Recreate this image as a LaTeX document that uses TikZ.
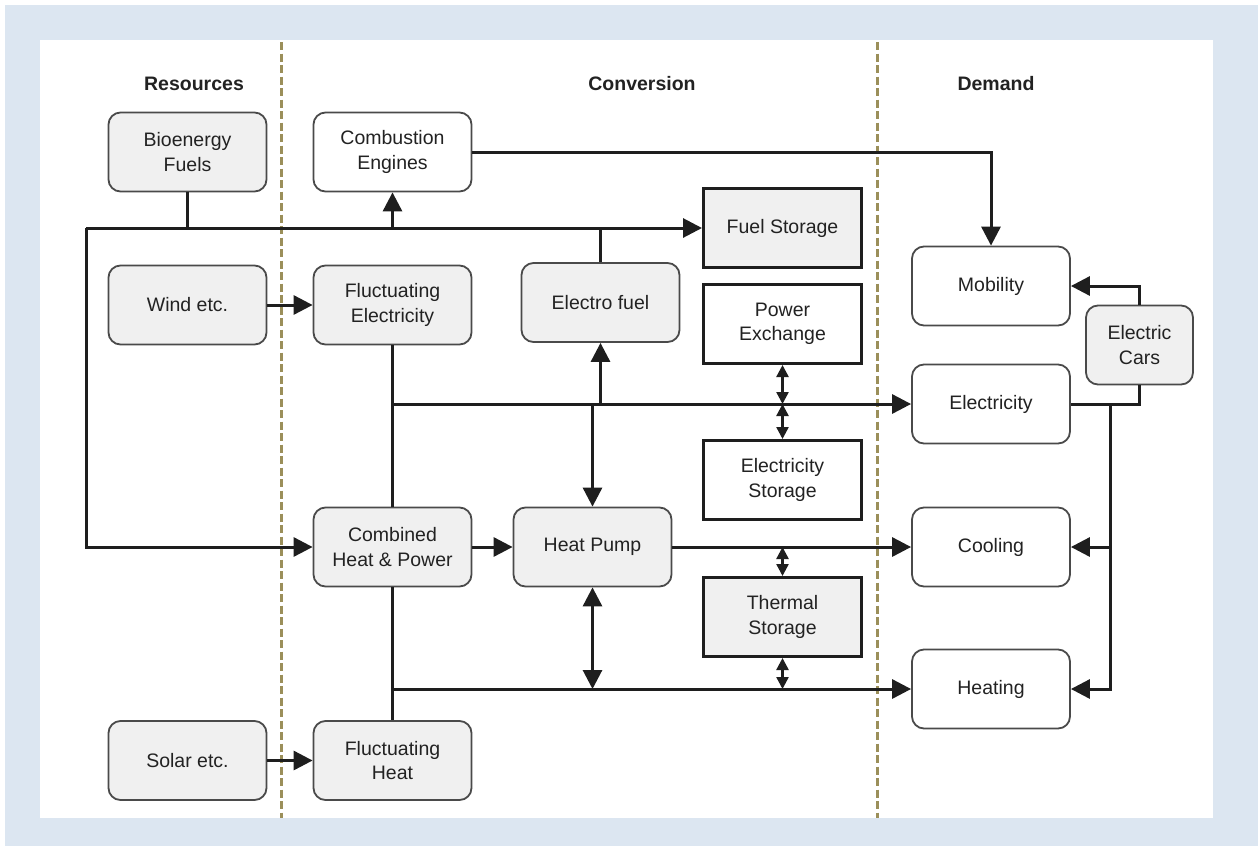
\documentclass[tikz,border=0pt]{standalone}
\usepackage{fontspec}
\setmainfont{Liberation Sans}
\usetikzlibrary{arrows.meta}
\definecolor{bgblue}{HTML}{DCE6F1}
\definecolor{boxgray}{HTML}{F0F0F0}
\definecolor{edge}{HTML}{4A4A4A}
\definecolor{wire}{HTML}{1E1E1E}
\definecolor{txt}{HTML}{222222}
\definecolor{sepcol}{HTML}{9B8F5A}
\begin{document}
\begin{tikzpicture}[x=1pt, y=-1pt,
    font=\fontsize{19.5}{24.5}\selectfont, text=txt,
    box/.style={line width=1.8pt, minimum width=158pt, minimum height=79pt, align=center, inner sep=0pt},
    gbox/.style={box, draw=edge, rounded corners=12pt, fill=boxgray},
    wbox/.style={box, draw=edge, rounded corners=12pt, fill=white},
    gsq/.style={box, draw=wire, line width=3pt, fill=boxgray},
    wsq/.style={box, draw=wire, line width=3pt, fill=white},
    head/.style={font=\fontsize{19.5}{24.5}\selectfont\bfseries},
    wireline/.style={draw=wire, line width=3pt},
    arr/.style={wireline, -{Triangle[length=19pt, width=19pt]}},
    bigdbl/.style={wireline, {Triangle[length=19pt, width=19pt]}-{Triangle[length=19pt, width=19pt]}},
    dbl/.style={draw=wire, line width=2.4pt, {Triangle[length=12pt, width=12pt]}-{Triangle[length=12pt, width=12pt]}},
    sep/.style={draw=sepcol, line width=3pt, dash pattern=on 8pt off 3.5pt}]
  % frame
  \useasboundingbox (0,0) rectangle (1258,846);
  \fill[bgblue] (5,5) rectangle (1258,846);
  \fill[white] (40,40) rectangle (1213,818);
  \draw[sep] (281,42) -- (281,818);
  \draw[sep] (877,42) -- (877,818);
  % column headings
  \node[head] (hres) at (194,84) {Resources};
  \node[head] (hconv) at (642,84) {Conversion};
  \node[head] (hdem) at (996,84) {Demand};
  % resources
  \node[gbox] (bio) at (187.5,152) {Bioenergy\\Fuels};
  \node[gbox] (wind) at (187.5,305) {Wind etc.};
  \node[gbox] (solar) at (187.5,760.5) {Solar etc.};
  % conversion
  \node[wbox] (comb) at (392.5,152) {Combustion\\Engines};
  \node[gbox] (fluel) at (392.5,305) {Fluctuating\\Electricity};
  \node[gbox] (chp) at (392.5,547) {Combined\\Heat \& Power};
  \node[gbox] (flheat) at (392.5,760.5) {Fluctuating\\Heat};
  \node[gbox] (efuel) at (600.5,302.5) {Electro fuel};
  \node[gbox] (hp) at (592.5,547) {Heat Pump};
  \node[gsq] (fstor) at (782.5,228) {Fuel Storage};
  \node[wsq] (pex) at (782.5,324) {Power\\Exchange};
  \node[wsq] (estor) at (782.5,480) {Electricity\\Storage};
  \node[gsq] (tstor) at (782.5,617) {Thermal\\Storage};
  % demand
  \node[wbox] (mob) at (991,286) {Mobility};
  \node[wbox] (elec) at (991,404) {Electricity};
  \node[wbox] (cool) at (991,547) {Cooling};
  \node[wbox] (heat) at (991,689) {Heating};
  \node[gbox, minimum width=107pt] (ecars) at (1139.5,345) {Electric\\Cars};
  % junction points
  \coordinate (fbus) at (86,228);
  \coordinate (ebus) at (392.5,404);
  \coordinate (hbus) at (392.5,689);
  \coordinate (dbus) at (1110,404);
  % fuel lines
  \draw[wireline] (bio.south) -- (bio.south |- fstor.west);
  \draw[arr] (fbus) -- (fstor.west);
  \draw[arr] (fbus) |- (chp.west);
  \draw[arr] (comb.south |- fstor.west) -- (comb.south);
  \draw[wireline] (efuel.north) -- (efuel.north |- fstor.west);
  \draw[arr] (comb.east) -| (mob.north);
  % electricity lines
  \draw[arr] (wind) -- (fluel);
  \draw[wireline] (fluel.south) -- (chp.north);
  \draw[arr] (ebus) -- (elec.west);
  \draw[arr] (hp.north |- ebus) -- (hp.north);
  \draw[arr] (efuel.south |- ebus) -- (efuel.south);
  \draw[dbl] (pex.south) -- (pex.south |- ebus);
  \draw[dbl] (estor.north) -- (estor.north |- ebus);
  % heat lines
  \draw[arr] (chp) -- (hp);
  \draw[arr] (hp) -- (cool);
  \draw[dbl] (tstor.north) -- (tstor.north |- hp.east);
  \draw[arr] (solar) -- (flheat);
  \draw[wireline] (chp.south) -- (flheat.north);
  \draw[arr] (hbus) -- (heat.west);
  \draw[bigdbl] (hp.south) -- (hp.south |- hbus);
  \draw[dbl] (tstor.south) -- (tstor.south |- hbus);
  % electric cars
  \draw[arr] (ecars.north) |- (mob.east);
  \draw[wireline] (ecars.south) |- (elec.east);
  \draw[arr] (dbus) |- (cool.east);
  \draw[arr] (dbus) |- (heat.east);
\end{tikzpicture}
\end{document}
